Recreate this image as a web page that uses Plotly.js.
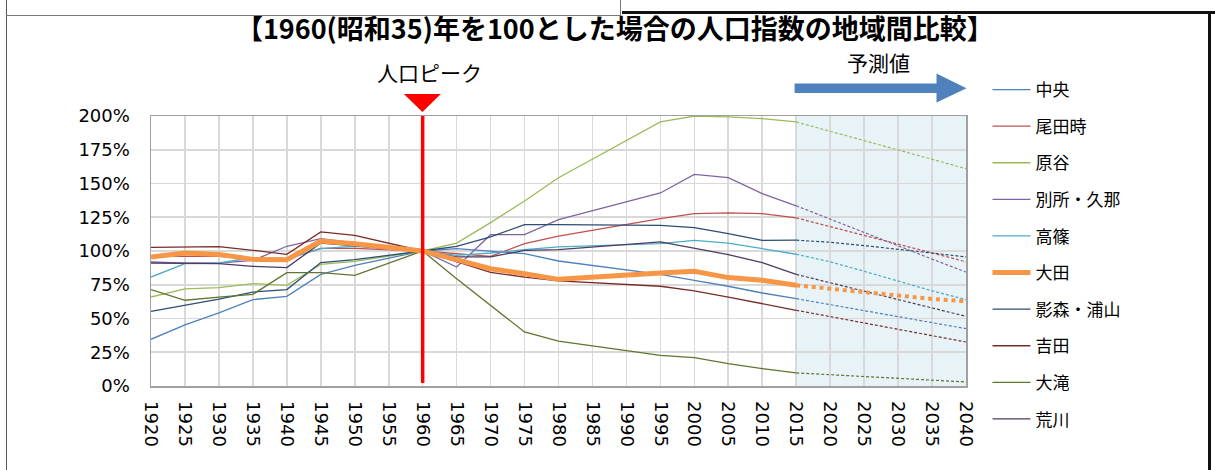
<!DOCTYPE html>
<html>
<head>
<meta charset="utf-8">
<script src="https://cdn.plot.ly/plotly-3.0.1.min.js"></script>
<style>
html,body{margin:0;padding:0;background:#fff;}
#wrap{position:relative;width:1215px;height:470px;overflow:hidden;}
#chart{position:absolute;left:0;top:0;width:1215px;height:470px;}
.ln{position:absolute;pointer-events:none;}
</style>
</head>
<body>
<div id="wrap">
<div id="chart"></div>
<div class="ln" style="left:6px;top:0;width:1px;height:470px;background:#555;"></div>
<div class="ln" style="left:6px;top:15px;width:614px;height:1px;background:#777;"></div>
<div class="ln" style="left:620px;top:0;width:1px;height:16px;background:#777;"></div>
<div class="ln" style="left:622px;top:11px;width:593px;height:3px;background:#111;"></div>
<div class="ln" style="left:1208px;top:11px;width:3px;height:459px;background:#111;"></div>
</div>
<script>
// ---- data ----
const years = [1920,1925,1930,1935,1940,1945,1950,1960,1965,1970,1975,1980,1995,2000,2005,2010,2015];
const projYears = [2015,2020,2025,2030,2035,2040];

const names = ["中央","尾田時","原谷","別所・久那","高篠","大田","影森・浦山","吉田","大滝","荒川"];

const chuo      = [34.6,45.2,54.1,64.0,66.4,82.7,89.4,100,101.7,100.0,98.0,92.6,82.7,78.3,73.9,68.9,64.7];
const odaji     = [96.0,96.0,96.0,94.0,94.0,102.0,102.0,100,98.0,96.0,105.4,111.0,124.0,127.7,128.2,127.7,124.5];
const haraya    = [65.9,71.9,72.8,75.8,74.6,90.1,92.3,100,105.9,121.0,137.0,154.3,195.6,200.0,199.3,198.0,195.6];
const bessho    = [92.0,91.0,91.0,93.0,103.5,109.1,106.0,100,88.1,112.1,112.1,123.2,143.0,156.8,154.3,142.5,133.5];
const takashino = [80.7,90.6,91.1,95.0,94.3,101.7,103.5,100,96.8,98.5,101.0,103.0,105.5,107.9,105.9,101.8,97.6];
const ota       = [95.6,98.5,97.5,93.8,93.6,107.4,105.4,100,93.6,86.9,83.2,79.0,83.7,85.0,80.3,78.3,74.6];
const kagemori  = [55.3,59.8,64.4,69.6,71.4,91.4,93.6,100,103.5,110.4,119.5,119.5,119.0,117.3,112.9,107.9,108.0];
const yoshida   = [102.7,102.7,103.2,100.5,97.5,114.1,111.6,100,91.9,84.2,80.7,77.8,73.9,70.4,65.9,61.0,56.1];
const otaki     = [71.4,63.5,65.9,67.9,84.0,84.0,82.0,100,79.5,59.8,40.0,33.3,22.7,21.0,16.6,12.9,9.7];
const arakawa   = [91.1,90.6,90.6,88.6,87.7,105.9,104.0,100,95.6,95.6,100.5,101.0,106.7,101.8,97.3,91.4,82.7];

const chuoP      = [64.7,60.3,55.8,51.4,47.0,42.5];
const odajiP     = [124.5,118.0,111.5,105.5,99.0,92.0];
const harayaP    = [195.6,188.7,181.5,174.6,167.7,161.0];
const besshoP    = [133.5,123.5,113.5,104.0,94.0,84.4];
const takashinoP = [97.6,92.0,85.0,77.5,70.5,64.0];
const otaP       = [74.6,72.0,70.0,67.0,64.5,62.7];
const kagemoriP  = [108.0,106.5,104.0,101.5,98.5,95.6];
const yoshidaP   = [56.1,51.4,46.7,42.0,37.3,32.6];
const otakiP     = [9.7,8.4,7.2,5.9,4.5,3.0];
const arakawaP   = [82.7,76.5,70.3,64.0,57.8,51.6];

const actual = [chuo,odaji,haraya,bessho,takashino,ota,kagemori,yoshida,otaki,arakawa];
const proj   = [chuoP,odajiP,harayaP,besshoP,takashinoP,otaP,kagemoriP,yoshidaP,otakiP,arakawaP];
const colors = ["#4F81BD","#C0504D","#9BBB59","#8064A2","#4BACC6","#F79646","#2C4D75","#772C2A","#5F7530","#4D3B62"];

const xTicks = [];
for (let y = 1920; y <= 2040; y += 5) xTicks.push(y);
const yTicks = [0,25,50,75,100,125,150,175,200];

// ---- traces ----
const order = [0,1,2,3,4,6,7,8,9,5]; // draw 大田 on top
const traces = [];
order.forEach(i => {
  const thick = (i === 5);
  traces.push({
    x: years, y: actual[i], type: 'scatter', mode: 'lines', name: names[i],
    legendrank: i + 1, legendgroup: 'g' + i,
    line: {color: colors[i], width: thick ? 5 : 1.3},
    hoverinfo: 'skip'
  });
  traces.push({
    x: projYears, y: proj[i], type: 'scatter', mode: 'lines', name: names[i] + '予測',
    showlegend: false, legendgroup: 'g' + i,
    line: {color: colors[i], width: thick ? 4 : 1.2, dash: thick ? '4px,3.8px' : '3px,2px'},
    hoverinfo: 'skip'
  });
});

// ---- layout helpers (pixel -> paper) ----
const L = 151, R = 966.5, T = 116, B = 386;
const px = v => (v - L) / (R - L);
const py = v => (B - v) / (B - T);

const FONT_NUM = 'DejaVu Sans, Noto Sans CJK JP, sans-serif';
const FONT_JP = 'Noto Sans CJK JP, sans-serif';

const layout = {
  width: 1215, height: 470,
  margin: {l: L, r: 1215 - R, t: T, b: 470 - B, pad: 0},
  paper_bgcolor: 'rgba(0,0,0,0)', plot_bgcolor: '#fff',
  showlegend: true,
  title: {
    text: '<b>【1960(昭和35)年を100とした場合の人口指数の地域間比較】</b>',
    font: {family: FONT_JP, size: 27, color: '#000'},
    x: 0.506, xref: 'container', xanchor: 'center',
    y: 1 - 30/470, yref: 'container', yanchor: 'middle'
  },
  xaxis: {
    range: [1920, 2040], tickmode: 'array', tickvals: xTicks, ticktext: xTicks.map(String),
    tickangle: 90, tickfont: {family: FONT_NUM, size: 18, color: '#000'},
    showgrid: true, gridcolor: '#D9D9D9', gridwidth: 1.6,
    showline: true, linecolor: '#A0A0A0', linewidth: 1.5, mirror: true,
    ticks: 'outside', ticklen: 10, tickcolor: 'rgba(0,0,0,0)', zeroline: false
  },
  yaxis: {
    range: [0, 200], tickmode: 'array', tickvals: yTicks, ticktext: yTicks.map(v => v + '%'),
    tickfont: {family: FONT_NUM, size: 18, color: '#000'},
    showgrid: true, gridcolor: '#D9D9D9', gridwidth: 1.6,
    showline: true, linecolor: '#A0A0A0', linewidth: 1.5, mirror: true,
    ticks: 'outside', ticklen: 16, tickcolor: 'rgba(0,0,0,0)', zeroline: false
  },
  legend: {
    x: px(988), xanchor: 'left', y: py(72), yanchor: 'top',
    font: {family: FONT_JP, size: 17, color: '#000'},
    traceorder: 'grouped', tracegroupgap: 11.5, itemwidth: 38,
    maxheight: 460,
    bgcolor: 'rgba(0,0,0,0)'
  },
  shapes: [
    {type: 'rect', xref: 'x', yref: 'paper', x0: 2015, x1: 2040, y0: 0, y1: 1,
     fillcolor: '#E7F3F7', line: {width: 0}, layer: 'below'},
    {type: 'line', xref: 'x', yref: 'paper', x0: 1960, x1: 1960, y0: py(383), y1: 1,
     line: {color: '#FF0000', width: 3.5}, layer: 'above'},
    {type: 'path', xref: 'paper', yref: 'paper',
     path: `M ${px(404)} ${py(94)} L ${px(441)} ${py(94)} L ${px(422.6)} ${py(112)} Z`,
     fillcolor: '#FF0000', line: {width: 0}},
    {type: 'path', xref: 'paper', yref: 'paper',
     path: `M ${px(795)} ${py(83.5)} L ${px(937)} ${py(83.5)} L ${px(937)} ${py(73.5)} L ${px(967)} ${py(88.3)} L ${px(937)} ${py(102.5)} L ${px(937)} ${py(93)} L ${px(795)} ${py(93)} Z`,
     fillcolor: '#4F81BD', line: {width: 0}}
  ],
  annotations: [
    {text: '人口ピーク', xref: 'x', yref: 'paper', x: 1961, y: py(72), showarrow: false,
     xanchor: 'center', yanchor: 'middle', font: {family: FONT_JP, size: 21, color: '#000'}},
    {text: '予測値', xref: 'paper', yref: 'paper', x: px(879), y: py(62), showarrow: false,
     xanchor: 'center', yanchor: 'middle', font: {family: FONT_JP, size: 21, color: '#000'}}
  ]
};

Plotly.newPlot('chart', traces, layout, {displayModeBar: false, staticPlot: true});
</script>
</body>
</html>
